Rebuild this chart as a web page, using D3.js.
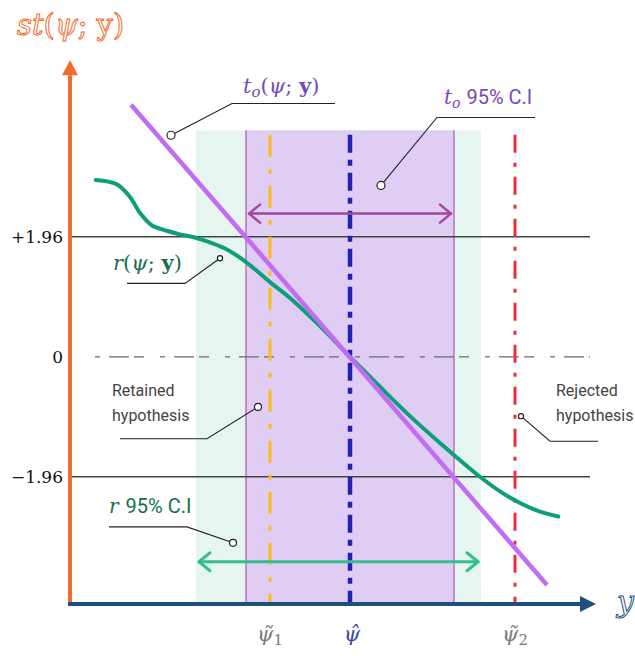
<!DOCTYPE html>
<html>
<head>
<meta charset="utf-8">
<script src="https://cdn.jsdelivr.net/npm/d3@7"></script>
<style>
  html, body { margin: 0; padding: 0; background: #fff; }
  svg { display: block; }
  .sans { font-family: Roboto, "Noto Sans", sans-serif; }
  .serif { font-family: "DejaVu Serif", "Liberation Serif", serif; }
</style>
</head>
<body>
<svg id="chart" width="635" height="656"></svg>
<script>
// ---- data -------------------------------------------------------------
// r(psi; y) sampled along psi
const rPsi = [2.57, 4.67, 6.0, 7.0, 8.17, 9.67, 11.0, 12.5, 14.0, 15.5, 17.0, 18.5, 20.0, 22.0, 25.0, 28.0, 31.0, 34.0, 37.0, 39.0, 41.0, 43.0, 45.0, 47.0, 48.83];
const rVal = [2.89, 2.82, 2.61, 2.35, 2.15, 2.06, 2.00, 1.95, 1.87, 1.77, 1.62, 1.43, 1.22, 0.96, 0.50, 0.0, -0.49, -0.97, -1.41, -1.69, -1.96, -2.20, -2.39, -2.53, -2.61];
// t_o(psi; y) is a straight line: end points
const tPsi = [6.1, 47.7];
const tVal = [4.12, -3.73];
// critical values
const critValues = [1.96, 0, -1.96];
const critLabels = ["+1.96", "0", "\u22121.96"];
// confidence intervals
const rCI = [12.6, 41.1];
const tCI = [17.6, 38.4];
// estimates
const psiTilde1 = 20.0;
const psiHat = 28.0;
const psiTilde2 = 44.5;
const bandTop = 3.70;

// ---- scales -----------------------------------------------------------
const svg = d3.select("#chart");
const x = d3.scaleLinear().domain([0, 52]).range([70, 590]);
const y = d3.scaleLinear().domain([-4.04, 4.85]).range([604, 60]);

const C = {
  orange: "#f26a2c",
  navy: "#1f4f7c",
  mint: "#e6f5f0",
  lilac: "#dfcdf4",
  edge: "#b452b4",
  tLine: "#c26bf4",
  rLine: "#0d9f79",
  yellow: "#fdbb1c",
  blue: "#2222b0",
  red: "#ee2c3c",
  purpArrow: "#a2479f",
  greenArrow: "#34bf93",
  tText: "#7a48b8",
  rText: "#15704f",
  gray: "#444"
};

// ---- confidence bands -------------------------------------------------
svg.append("rect")
  .attr("x", x(rCI[0])).attr("y", y(bandTop))
  .attr("width", x(rCI[1]) - x(rCI[0]))
  .attr("height", y.range()[0] - y(bandTop))
  .attr("fill", C.mint);
svg.append("rect")
  .attr("x", x(tCI[0])).attr("y", y(bandTop))
  .attr("width", x(tCI[1]) - x(tCI[0]))
  .attr("height", y.range()[0] - y(bandTop))
  .attr("fill", C.lilac);
tCI.forEach(v => {
  svg.append("line")
    .attr("x1", x(v)).attr("x2", x(v))
    .attr("y1", y(bandTop)).attr("y2", y.range()[0])
    .attr("stroke", C.edge).attr("stroke-width", 1.2);
});

// ---- critical value lines ---------------------------------------------
critValues.forEach(v => {
  const l = svg.append("line")
    .attr("x1", x(0.2)).attr("x2", x(52))
    .attr("y1", y(v)).attr("y2", y(v));
  if (v === 0) {
    l.attr("stroke", "#6a6a6a").attr("stroke-width", 1.3)
     .attr("stroke-dasharray", "5,9,20,5,10,16")
     .attr("stroke-dashoffset", -10)
     .attr("x1", x(1.5));
  } else {
    l.attr("stroke", C.gray).attr("stroke-width", 1.5);
  }
});

// ---- vertical estimate lines ------------------------------------------
const vlines = [
  { v: psiTilde1, color: C.yellow, w: 3, dash: "22,12,5,12" },
  { v: psiHat, color: C.blue, w: 4.5, dash: "18,7,6,7" },
  { v: psiTilde2, color: C.red, w: 3, dash: "18,10,4,10" }
];
vlines.forEach(d => {
  svg.append("line")
    .attr("x1", x(d.v)).attr("x2", x(d.v))
    .attr("y1", y(3.63)).attr("y2", y.range()[0])
    .attr("stroke", d.color).attr("stroke-width", d.w)
    .attr("stroke-dasharray", d.dash);
});

// ---- curves -------------------------------------------------------------
const rPts = rPsi.map((p, i) => [p, rVal[i]]);
svg.append("path")
  .datum(rPts)
  .attr("d", d3.line().x(d => x(d[0])).y(d => y(d[1])).curve(d3.curveCatmullRom.alpha(0.5)))
  .attr("fill", "none").attr("stroke", C.rLine).attr("stroke-width", 4)
  .attr("stroke-linecap", "round");

const tPts = tPsi.map((p, i) => [p, tVal[i]]);
svg.append("path")
  .datum(tPts)
  .attr("d", d3.line().x(d => x(d[0])).y(d => y(d[1])))
  .attr("fill", "none").attr("stroke", C.tLine).attr("stroke-width", 4.5);

// ---- interval arrows --------------------------------------------------
function doubleArrow(lo, hi, v, color, w) {
  const x0 = x(lo) + 3, x1 = x(hi) - 3, yy = y(v), h = 9, s = 11;
  const g = svg.append("g").attr("fill", "none").attr("stroke", color)
    .attr("stroke-width", w).attr("stroke-linecap", "round").attr("stroke-linejoin", "round");
  g.append("line").attr("x1", x0).attr("x2", x1).attr("y1", yy).attr("y2", yy);
  g.append("path").attr("d", `M${x0 + s},${yy - h}L${x0},${yy}L${x0 + s},${yy + h}`);
  g.append("path").attr("d", `M${x1 - s},${yy - h}L${x1},${yy}L${x1 - s},${yy + h}`);
}
doubleArrow(tCI[0], tCI[1], 2.34, C.purpArrow, 2.5);
doubleArrow(rCI[0], rCI[1], -3.35, C.greenArrow, 3);

// ---- axes ------------------------------------------------------------
// vertical axis
svg.append("line")
  .attr("x1", x(0)).attr("x2", x(0))
  .attr("y1", y.range()[0] + 1).attr("y2", y(4.6))
  .attr("stroke", C.orange).attr("stroke-width", 4);
svg.append("path")
  .attr("d", `M${x(0) - 8},${y(4.6)}L${x(0)},${y(4.85)}L${x(0) + 8},${y(4.6)}Z`)
  .attr("fill", C.orange);
// horizontal axis
svg.append("line")
  .attr("x1", x(0) - 2).attr("x2", x(51.2))
  .attr("y1", y.range()[0]).attr("y2", y.range()[0])
  .attr("stroke", C.navy).attr("stroke-width", 4);
svg.append("path")
  .attr("d", `M${x(51)},${y.range()[0] - 8}L${x(52.6)},${y.range()[0]}L${x(51)},${y.range()[0] + 8}Z`)
  .attr("fill", C.navy);

// critical value tick labels
const yAxis = d3.axisLeft(y)
  .tickValues(critValues)
  .tickFormat((d, i) => critLabels[i])
  .tickSize(0).tickPadding(0);
const ya = svg.append("g").attr("transform", "translate(63,0)").call(yAxis);
ya.select(".domain").remove();
ya.selectAll("text")
  .attr("class", "serif")
  .attr("font-family", "'DejaVu Serif', 'Liberation Serif', serif")
  .attr("font-size", 17).attr("fill", "#111");

// axis titles
(function () {
  const t = svg.append("text")
    .attr("x", 17).attr("y", 35)
    .attr("font-family", "'DejaVu Serif', serif")
    .attr("font-size", 29).attr("fill", "#fff")
    .attr("stroke", C.orange).attr("stroke-width", 1);
  t.append("tspan").attr("font-style", "italic").text("st");
  t.append("tspan").text("(");
  t.append("tspan").attr("font-style", "italic").text("\u03C8");
  t.append("tspan").text("; y)");
})();
svg.append("text")
  .attr("x", 617).attr("y", 612)
  .attr("font-family", "'DejaVu Serif', serif").attr("font-style", "italic")
  .attr("font-size", 30).attr("fill", "#fff")
  .attr("stroke", C.navy).attr("stroke-width", 1)
  .text("y");

// estimate labels under the axis
const xLabels = [
  { v: psiTilde1, mark: "\u0303", sub: "1", color: "#7a7a7a" },
  { v: psiHat, mark: "\u0302", sub: "", color: "#3a48a8" },
  { v: psiTilde2, mark: "\u0303", sub: "2", color: "#7a7a7a" }
];
xLabels.forEach(d => {
  const t = svg.append("text")
    .attr("x", x(d.v) + (d.sub ? 0 : 2)).attr("y", 641)
    .attr("text-anchor", "middle")
    .attr("font-family", "'DejaVu Serif', serif")
    .attr("font-size", 21).attr("fill", d.color);
  t.append("tspan").attr("font-style", "italic").text("\u03C8" + d.mark);
  if (d.sub) t.append("tspan").attr("font-size", 15).attr("dy", 4).text(d.sub);
});

// ---- annotations with leader lines ------------------------------------
function leader(pts, r) {
  svg.append("path")
    .attr("d", d3.line().x(d => x(d[0])).y(d => y(d[1]))(pts))
    .attr("fill", "none").attr("stroke", "#222").attr("stroke-width", 1.1);
  const c = pts[0];
  svg.append("circle").attr("cx", x(c[0])).attr("cy", y(c[1])).attr("r", r)
    .attr("fill", "#fff").attr("stroke", "#222").attr("stroke-width", 1.2);
}

// t_o(psi; y)
leader([[10.1, 3.62], [16.2, 4.14], [26.5, 4.14]], 4);
(function () {
  const t = svg.append("text").attr("x", x(17.3)).attr("y", y(4.31))
    .attr("font-family", "'DejaVu Serif', serif").attr("font-size", 21).attr("fill", C.tText);
  t.append("tspan").attr("font-style", "italic").text("t");
  t.append("tspan").attr("font-style", "italic").attr("font-size", 15).attr("dy", 4).text("o");
  t.append("tspan").attr("dy", -4).text("(");
  t.append("tspan").attr("font-style", "italic").text("\u03C8");
  t.append("tspan").text("; ");
  t.append("tspan").attr("font-weight", "bold").text("y");
  t.append("tspan").text(")");
})();

// t_o 95% C.I
leader([[31.1, 2.80], [36.7, 3.91], [46.5, 3.91]], 4);
(function () {
  const t = svg.append("text").attr("x", x(37.4)).attr("y", y(4.13))
    .attr("font-size", 20).attr("fill", C.tText);
  t.append("tspan").attr("font-family", "'DejaVu Serif', serif").attr("font-style", "italic").text("t");
  t.append("tspan").attr("font-family", "'DejaVu Serif', serif").attr("font-style", "italic")
    .attr("font-size", 14).attr("dy", 4).text("o");
  t.append("tspan").attr("class", "sans").attr("dy", -4).attr("dx", 6).text("95% C.I");
})();

// r(psi; y)
leader([[15.0, 1.61], [11.5, 1.20], [5.7, 1.20]], 2.6);
(function () {
  const t = svg.append("text").attr("x", x(4.3)).attr("y", y(1.42))
    .attr("font-family", "'DejaVu Serif', serif").attr("font-size", 21).attr("fill", C.rText);
  t.append("tspan").attr("font-style", "italic").text("r");
  t.append("tspan").text("(");
  t.append("tspan").attr("font-style", "italic").text("\u03C8");
  t.append("tspan").text("; ");
  t.append("tspan").attr("font-weight", "bold").text("y");
  t.append("tspan").text(")");
})();

// Retained / Rejected hypothesis
leader([[18.8, -0.82], [13.7, -1.34], [5.0, -1.34]], 3.5);
leader([[45.1, -0.97], [48.0, -1.38], [52.8, -1.38]], 2.6);
[["Retained", "hypothesis", 4.2], ["Rejected", "hypothesis", 48.6]].forEach(d => {
  const t = svg.append("text").attr("class", "sans").attr("font-size", 16).attr("fill", "#444");
  t.append("tspan").attr("x", x(d[2])).attr("y", y(-0.64)).text(d[0]);
  t.append("tspan").attr("x", x(d[2])).attr("y", y(-1.05)).text(d[1]);
});

// r 95% C.I
leader([[16.3, -3.04], [11.7, -2.78], [3.9, -2.78]], 3.5);
(function () {
  const t = svg.append("text").attr("x", x(3.9)).attr("y", y(-2.55))
    .attr("font-size", 20).attr("fill", C.rText);
  t.append("tspan").attr("font-family", "'DejaVu Serif', serif").attr("font-style", "italic")
    .text("r");
  t.append("tspan").attr("class", "sans").attr("dx", 7).text("95% C.I");
})();
</script>
</body>
</html>
